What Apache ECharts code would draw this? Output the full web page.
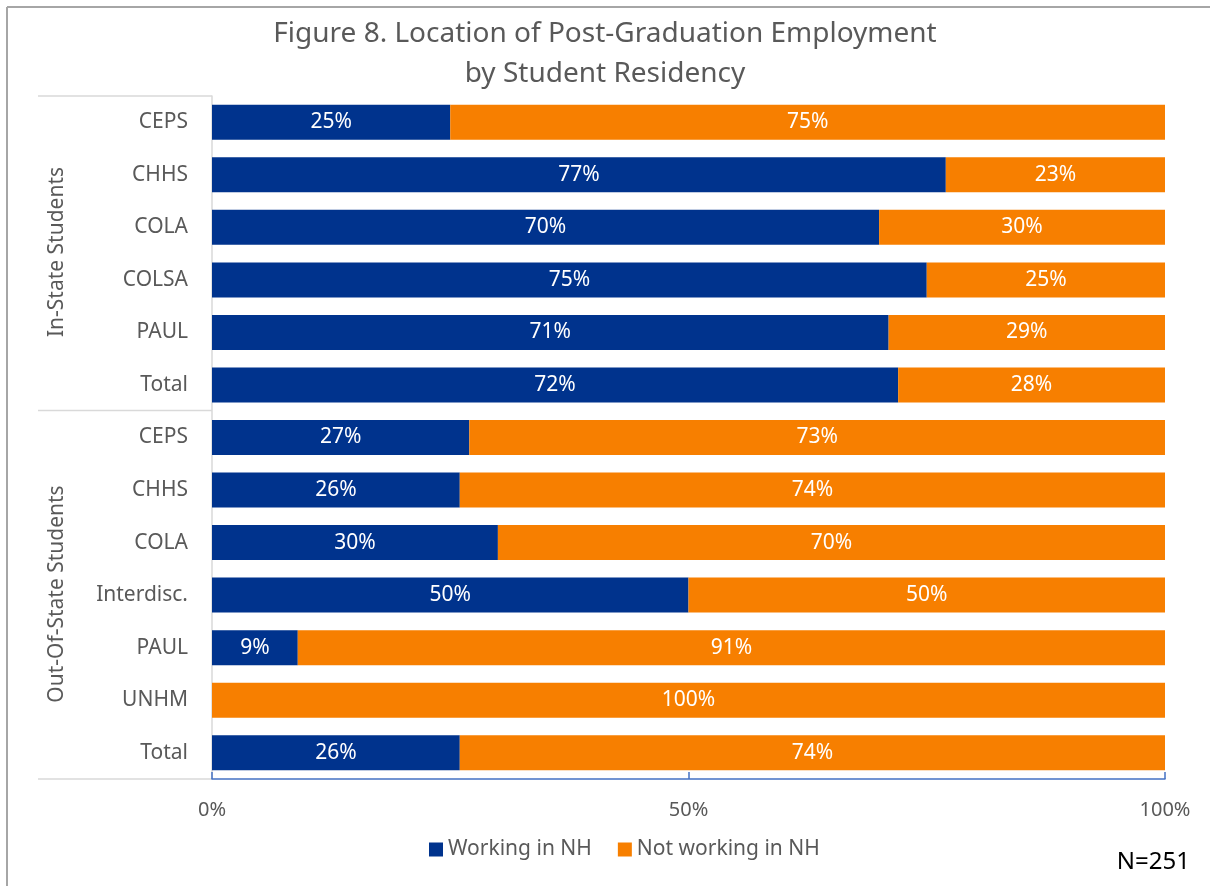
<!DOCTYPE html>
<html>
<head>
<meta charset="utf-8">
<script src="https://cdn.jsdelivr.net/npm/echarts@6/dist/echarts.min.js"></script>
<style>
  html, body { margin: 0; padding: 0; background: #fff; }
  #chart { width: 1210px; height: 886px; }
</style>
</head>
<body>
<div id="chart"></div>
<script>
// categories, top to bottom
const categories = ['CEPS', 'CHHS', 'COLA', 'COLSA', 'PAUL', 'Total',
  'CEPS', 'CHHS', 'COLA', 'Interdisc.', 'PAUL', 'UNHM', 'Total'];
const groups = ['In-State Students', 'Out-Of-State Students'];

// percentages
const workingNH = [25, 77, 70, 75, 71, 72, 27, 26, 30, 50, 9, 0, 26];
const notWorkingNH = [75, 23, 30, 25, 29, 28, 73, 74, 70, 50, 91, 100, 74];

const xTicks = [0, 50, 100];

const FONT = '"Noto Sans", sans-serif';
const GRAY = '#595959';

const chart = echarts.init(document.getElementById('chart'));

const barLabel = {
  show: true,
  position: 'inside',
  color: '#fff',
  fontSize: 21,
  fontFamily: FONT,
  formatter: p => (p.value > 0 ? p.value + '%' : '')
};

chart.setOption({
  animation: false,
  title: {
    text: 'Figure 8. Location of Post-Graduation Employment\nby Student Residency',
    left: 'center',
    top: 9,
    textStyle: { color: GRAY, fontSize: 28, fontWeight: 'normal', fontFamily: FONT, lineHeight: 40 }
  },
  legend: {
    bottom: 21,
    left: 424,
    itemWidth: 14,
    itemHeight: 14,
    itemGap: 26,
    icon: 'rect',
    textStyle: { color: GRAY, fontSize: 21, fontFamily: FONT }
  },
  grid: { left: 212, right: 45, top: 96, bottom: 107 },
  xAxis: {
    type: 'value',
    min: 0,
    max: 100,
    interval: 50,
    axisLine: { show: true, lineStyle: { color: '#4472C4', width: 1.5 } },
    axisTick: { show: true, inside: true, length: 7, lineStyle: { color: '#4472C4', width: 1.5 } },
    splitLine: { show: false },
    axisLabel: {
      color: GRAY, fontSize: 20, fontFamily: FONT, margin: 21,
      formatter: v => (xTicks.includes(v) ? v + '%' : '')
    }
  },
  yAxis: {
    type: 'category',
    inverse: true,
    data: categories,
    axisLine: { show: true, lineStyle: { color: '#D9D9D9', width: 1.5 } },
    axisTick: { show: false },
    axisLabel: { color: GRAY, fontSize: 21, fontFamily: FONT, margin: 24 }
  },
  series: [
    {
      name: 'Working in NH',
      type: 'bar',
      stack: 'total',
      barWidth: 35,
      itemStyle: { color: '#00338D' },
      label: barLabel,
      data: workingNH
    },
    {
      name: 'Not working in NH',
      type: 'bar',
      stack: 'total',
      barWidth: 35,
      itemStyle: { color: '#F77F00' },
      label: barLabel,
      data: notWorkingNH
    }
  ],
  graphic: [
    // frame
    { type: 'line', shape: { x1: 7, y1: 7, x2: 1210, y2: 7 }, style: { stroke: '#A6A6A6', lineWidth: 2 } },
    { type: 'line', shape: { x1: 7, y1: 7, x2: 7, y2: 886 }, style: { stroke: '#A6A6A6', lineWidth: 2 } },
    // group separators
    { type: 'line', shape: { x1: 38, y1: 96, x2: 212, y2: 96 }, style: { stroke: '#D9D9D9', lineWidth: 1.5 } },
    { type: 'line', shape: { x1: 38, y1: 410.5, x2: 212, y2: 410.5 }, style: { stroke: '#D9D9D9', lineWidth: 1.5 } },
    { type: 'line', shape: { x1: 38, y1: 779, x2: 212, y2: 779 }, style: { stroke: '#D9D9D9', lineWidth: 1.5 } },
    // group labels
    {
      type: 'text', x: 57, y: 252, rotation: Math.PI / 2,
      style: { text: groups[0], fill: GRAY, fontSize: 21, fontFamily: FONT, align: 'center', verticalAlign: 'middle' }
    },
    {
      type: 'text', x: 57, y: 594, rotation: Math.PI / 2,
      style: { text: groups[1], fill: GRAY, fontSize: 21, fontFamily: FONT, align: 'center', verticalAlign: 'middle' }
    },
    {
      type: 'text', right: 20, bottom: 12,
      style: { text: 'N=251', fill: '#000', fontSize: 24, fontFamily: FONT }
    }
  ]
});
</script>
</body>
</html>
